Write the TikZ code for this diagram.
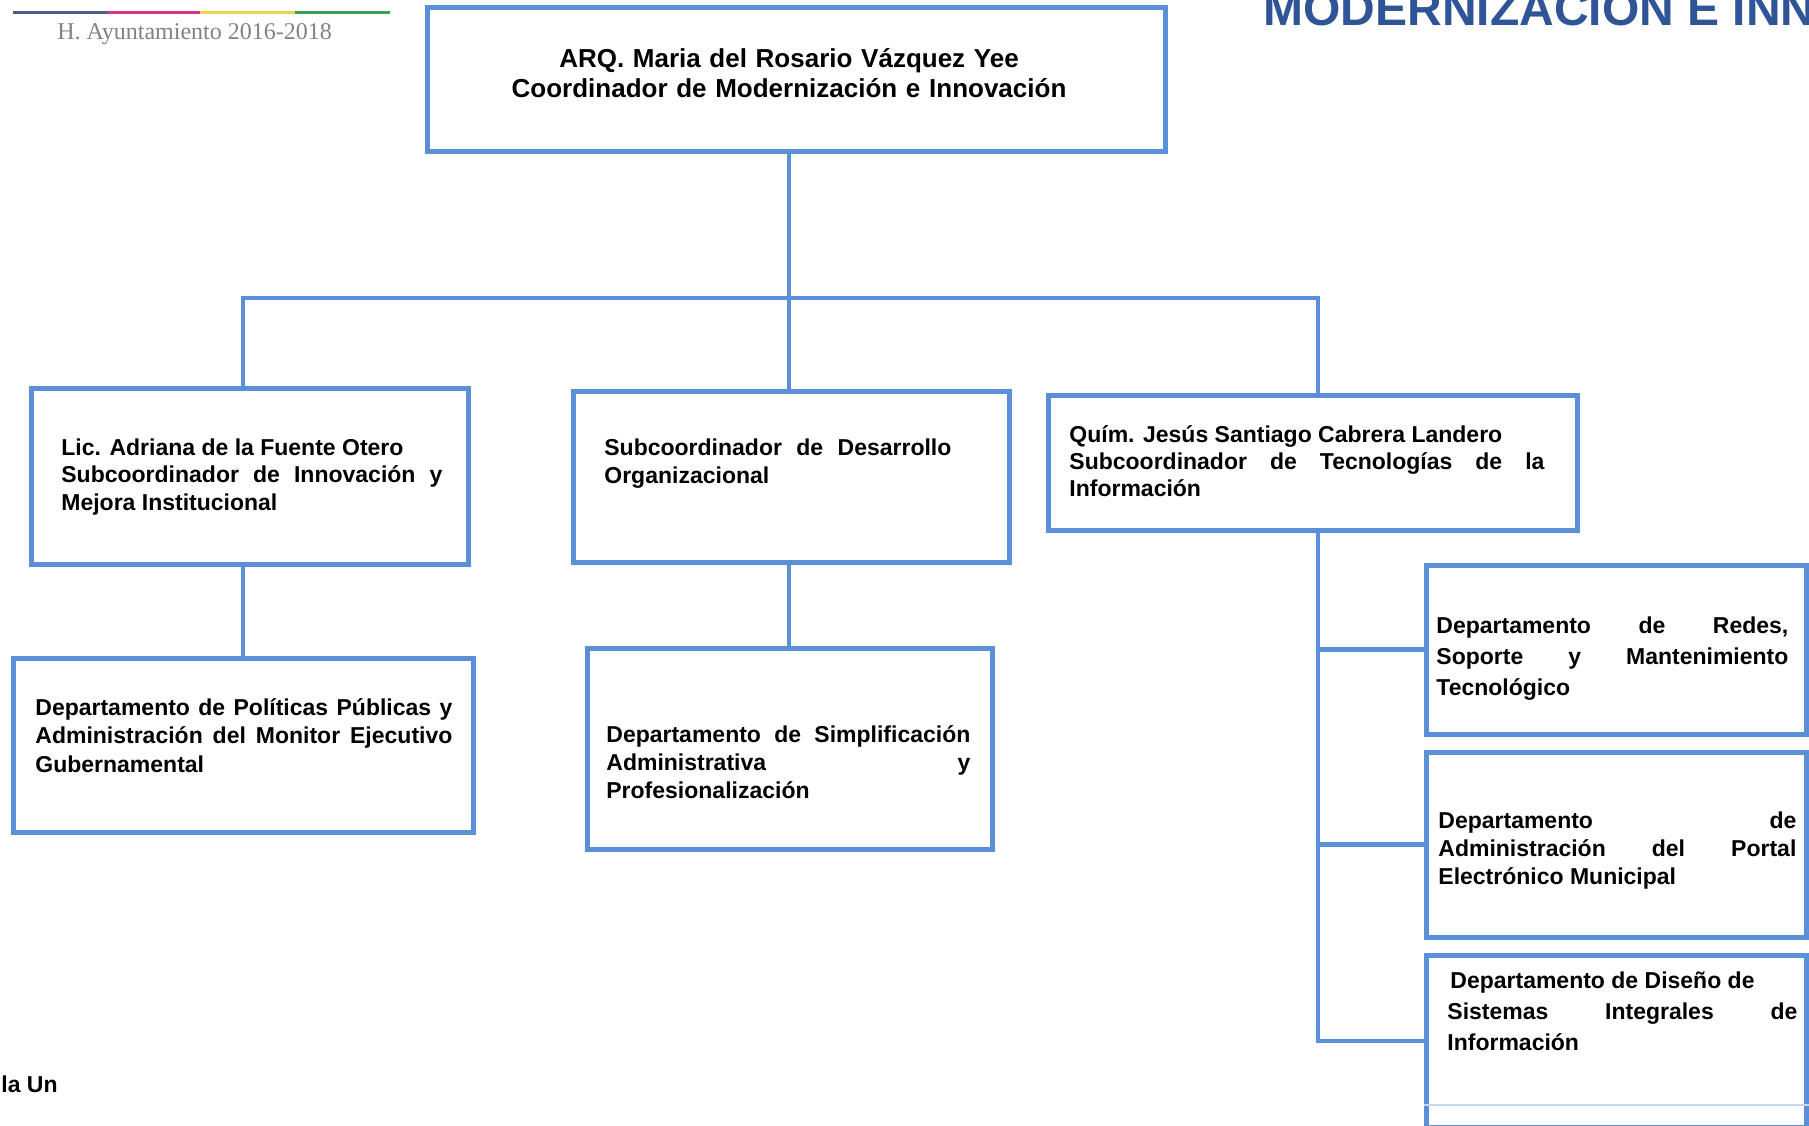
\documentclass[tikz,border=0pt]{standalone}
\usepackage{fontspec}
\setmainfont{Liberation Sans}
\newfontfamily\headfont{Liberation Serif}
\usetikzlibrary{fit}
\definecolor{boxblue}{RGB}{91,143,214}
\definecolor{titleblue}{RGB}{47,85,151}
\definecolor{headgrey}{RGB}{130,130,130}
\definecolor{barblue}{RGB}{75,92,140}
\definecolor{barpink}{RGB}{214,52,140}
\definecolor{baryellow}{RGB}{235,212,70}
\definecolor{bargreen}{RGB}{60,160,90}
\hbadness=10000
\begin{document}
\begin{tikzpicture}
[x=0.5pt,y=-0.5pt,
  boxdecorate/.style={shape=rectangle,inner sep=0pt,draw=boxblue,line width=2.5pt},%
  linedecorate/.style={-,draw=boxblue,line width=2.3pt,line cap=rect},%
  textdecorate/.style={anchor=base west,inner sep=0pt,align=justify,
    font=\bfseries\fontsize{11.5}{14}\selectfont}]
\useasboundingbox (0,0) rectangle (1809,1125);
\clip (0,0) rectangle (1809,1125);
%% header
\foreach \xa/\xb/\barcolor in {13/107/barblue, 107/200/barpink,
  200/295/baryellow, 295/390/bargreen}
{
  \draw[line width=1.5pt,\barcolor] (\xa,12) -- (\xb,12);
}
\node[anchor=base west,inner sep=0pt,text=headgrey,
  font=\headfont\fontsize{12}{14}\selectfont] (yearlabel) at (57,39)
  {H. Ayuntamiento 2016-2018};
\node[anchor=base west,inner sep=0pt,text=titleblue,
  font=\bfseries\fontsize{24}{28}\selectfont] (title) at (1263,25)
  {MODERNIZACIÓN E INNOVACIÓN};
%% boxes
\foreach \nodename/\xa/\ya/\xb/\yb in {top/427/7/1165/151,
  sub1/31/388/468/564, sub2/573/391/1009/562, sub3/1048/395/1577/530,
  dep1/13/658/473/832, dep2/587/648/992/849,
  dep3/1426/565/1806/734, dep4/1426/752/1806/937, dep5/1426/955/1806/1127}
{
  \node[boxdecorate,fit={(\xa,\ya) (\xb,\yb)}] (\nodename) {};
}
\draw[boxblue!35,line width=1pt] (dep5.west |- 0,1105) -- (dep5.east |- 0,1105);
%% texts
\node[textdecorate,anchor=base,align=center,text width=340pt,
  font=\bfseries\fontsize{13}{15}\selectfont] (toptext) at (789,67)
  {ARQ. Maria del Rosario Vázquez Yee\\ Coordinador de Modernización e Innovación};
\node[textdecorate,text width=190.5pt,font=\bfseries\fontsize{11.5}{13.75}\selectfont]
  (sub1text) at (61,455)
  {Lic. Adriana de la Fuente Otero\\ Subcoordinador de Innovación y\linebreak
  Mejora Institucional};
\node[textdecorate,text width=173.5pt] (sub2text) at (604,455)
  {Subcoordinador de Desarrollo\linebreak Organizacional};
\node[textdecorate,text width=237.5pt,font=\bfseries\fontsize{11.5}{13.5}\selectfont]
  (sub3text) at (1069,442)
  {Quím. Jesús Santiago Cabrera Landero\\ Subcoordinador de Tecnologías de la\linebreak
  Información};
\node[textdecorate,text width=208.5pt,font=\bfseries\fontsize{11.5}{14.25}\selectfont]
  (dep1text) at (35,715)
  {Departamento de Políticas Públicas y\linebreak Administración del Monitor
  Ejecutivo\linebreak Gubernamental};
\node[textdecorate,text width=182pt] (dep2text) at (606,742)
  {Departamento de Simplificación\linebreak Administrativa y\linebreak
  Profesionalización};
\node[textdecorate,text width=176pt,font=\bfseries\fontsize{11.5}{15.5}\selectfont]
  (dep3text) at (1436,633)
  {Departamento de Redes,\linebreak Soporte y Mantenimiento\linebreak Tecnológico};
\node[textdecorate,text width=179pt] (dep4text) at (1438,828)
  {Departamento de\linebreak Administración del Portal\linebreak
  Electrónico Municipal};
\node[textdecorate,text width=175pt,font=\bfseries\fontsize{11.5}{15.5}\selectfont]
  (dep5text) at (1447,988)
  {\hspace{1.5pt}Departamento de Diseño de\\ Sistemas Integrales de\linebreak
  Información};
\node[textdecorate] (footnote) at (1,1092) {la Un};
%% lines
\coordinate (j1) at (243,298);
\coordinate (j2) at (789,298);
\coordinate (j3) at (1318,298);
\path
\foreach \startnode/\endnode in {j2 |- top.south/j2, j1/j3,
  j1/j1 |- sub1.north, j2/j2 |- sub2.north, j3/j3 |- sub3.north,
  j1 |- sub1.south/j1 |- dep1.north, j2 |- sub2.south/j2 |- dep2.north,
  j3 |- sub3.south/j3 |- dep5.west, j3 |- dep3.west/dep3.west,
  j3 |- dep4.west/dep4.west, j3 |- dep5.west/dep5.west} {
  (\startnode) edge[linedecorate] (\endnode)
};
\end{tikzpicture}
\end{document}
